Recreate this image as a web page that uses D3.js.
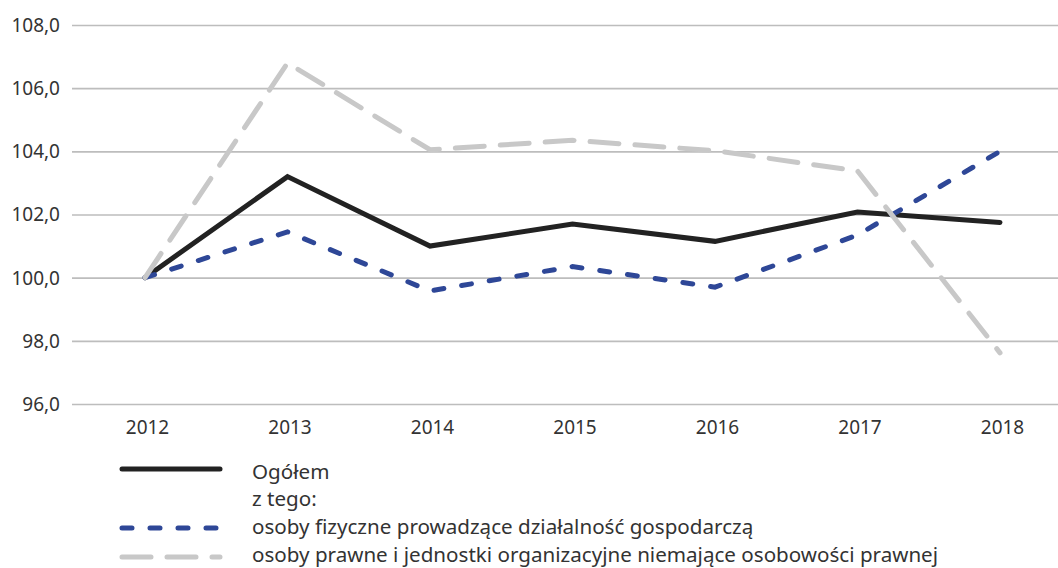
<!DOCTYPE html>
<html>
<head>
<meta charset="utf-8">
<script src="https://cdn.jsdelivr.net/npm/d3@7"></script>
<style>
  html, body { margin: 0; padding: 0; background: #fff; }
  svg { display: block; }
  text { font-family: "Noto Sans", "Open Sans", sans-serif; fill: #333; }
</style>
</head>
<body>
<svg id="chart" width="1058" height="568"></svg>
<script>
const years = ["2012", "2013", "2014", "2015", "2016", "2017", "2018"];
const ogolem = [100.0, 103.2, 101.0, 101.7, 101.15, 102.08, 101.75];
const fizyczne = [100.0, 101.45, 99.58, 100.35, 99.7, 101.35, 104.0];
const prawne = [100.0, 106.8, 104.05, 104.35, 104.02, 103.38, 97.62];
const yTicks = [96, 98, 100, 102, 104, 106, 108];
const legendLabels = [
  "Ogółem",
  "z tego:",
  "osoby fizyczne prowadzące działalność gospodarczą",
  "osoby prawne i jednostki organizacyjne niemające osobowości prawnej"
];

const svg = d3.select("#chart");
const x = d3.scalePoint().domain(years).range([145, 1000]);
const y = d3.scaleLinear().domain([96, 108]).range([404, 25]);
const fmt = v => d3.format(".1f")(v).replace(".", ",");

// gridlines
const yAxis = d3.axisLeft(y).tickValues(yTicks).tickSize(-(1058 - 72)).tickFormat(fmt).tickPadding(12);
const gy = svg.append("g").attr("transform", "translate(72,0)").call(yAxis);
gy.select(".domain").remove();
gy.selectAll(".tick line").attr("stroke", "#bdbdbd").attr("stroke-width", 1.6);
gy.selectAll(".tick text").attr("font-size", 19).attr("fill", "#333").attr("dy", "0.34em");

// x axis labels
const xAxis = d3.axisBottom(x).tickSize(0).tickPadding(0);
const gx = svg.append("g").attr("transform", "translate(2,420)").call(xAxis);
gx.select(".domain").remove();
gx.selectAll(".tick text").attr("font-size", 19).attr("fill", "#333").attr("dy", "0.71em").attr("y", 0);

const line = d3.line().x((d, i) => x(years[i])).y(d => y(d));

const series = [
  { data: ogolem, color: "#222222", dash: null, cap: "round" },
  { data: fizyczne, color: "#2e4797", dash: "10,18", cap: "round" },
  { data: prawne, color: "#c8c8c8", dash: "29,16", cap: "round" }
];

series.forEach(s => {
  const p = svg.append("path")
    .attr("d", line(s.data))
    .attr("fill", "none")
    .attr("stroke", s.color)
    .attr("stroke-width", 5)
    .attr("stroke-linejoin", "miter")
    .attr("stroke-linecap", s.cap);
  if (s.dash) p.attr("stroke-dasharray", s.dash);
});

// legend
const lg = svg.append("g");
const legendRows = [
  { s: series[0], ly: 469, ty: 479, label: legendLabels[0] },
  { s: null, ly: null, ty: 506, label: legendLabels[1] },
  { s: series[1], ly: 528, ty: 534, label: legendLabels[2] },
  { s: series[2], ly: 557, ty: 562, label: legendLabels[3] }
];
legendRows.forEach(r => {
  if (r.s) {
    const l = lg.append("line")
      .attr("x1", 122).attr("x2", 220)
      .attr("y1", r.ly).attr("y2", r.ly)
      .attr("stroke", r.s.color).attr("stroke-width", 5)
      .attr("stroke-linecap", r.s.cap);
    if (r.s.dash) l.attr("stroke-dasharray", r.s.dash);
  }
  lg.append("text").attr("x", 252).attr("y", r.ty).attr("font-size", 20.6).text(r.label);
});
</script>
</body>
</html>
